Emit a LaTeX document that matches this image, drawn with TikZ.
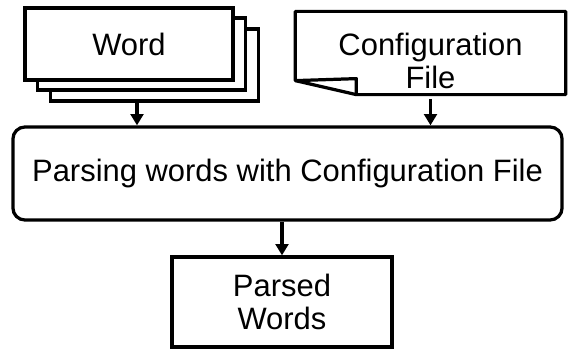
\documentclass[tikz,border=0pt]{standalone}
\usepackage{fontspec}
\setmainfont{Liberation Sans}
\usetikzlibrary{positioning,arrows.meta}

\begin{document}
\begin{tikzpicture}[x=0.025cm,y=-0.025cm,>={Triangle[length=8pt,width=9pt]},
  box/.style={draw,line width=2.3pt,fill=white,align=center,inner sep=0pt,
    font=\fontsize{22}{23.5}\selectfont},
  page/.style={box,minimum width=5.2cm,minimum height=1.8cm},
  arr/.style={->,line width=2.3pt}]
  \useasboundingbox (0,0) rectangle (574,354);
  % stack of word pages (back to front)
  \node[page] (w3) at (154.5,65) {};
  \node[page] (w2) at (141.5,54) {};
  \node[page] (word) at (129,44) {Word};
  % configuration file, folded corner bottom left
  \node[box,draw=none,fill=none,minimum width=6.675cm,minimum height=2cm] (cfg) at (430.5,53) {};
  \draw[line width=2.3pt,line join=round] (cfg.north west) -- (cfg.north east) -- (cfg.south east)
    -- ([xshift=1.525cm]cfg.south west) -- ([yshift=0.35cm]cfg.south west) -- cycle;
  \draw[line width=2.3pt,line join=round] ([yshift=0.35cm]cfg.south west)
    -- ([xshift=1.525cm,yshift=0.4cm]cfg.south west) -- ([xshift=1.525cm]cfg.south west);
  \node[box,draw=none,fill=none] (cfgtext) at (430.5,61) {Configuration\\File};
  % parsing step
  \node[box,rounded corners=0.3cm,minimum width=13.725cm,minimum height=2.325cm] (parse)
    at (287.5,173.5) {Parsing words with Configuration File};
  \node[box,minimum width=5.5cm,minimum height=2.25cm] (out) at (282,302) {Parsed\\Words};
  % arrows
  \draw[arr] (w3.south -| 137,0) -- (parse.north -| 137,0);
  \draw[arr] ([yshift=-3pt]cfg.south) -- (parse.north -| cfg.south);
  \draw[arr] (parse.south -| out.north) -- (out.north);
\end{tikzpicture}
\end{document}
